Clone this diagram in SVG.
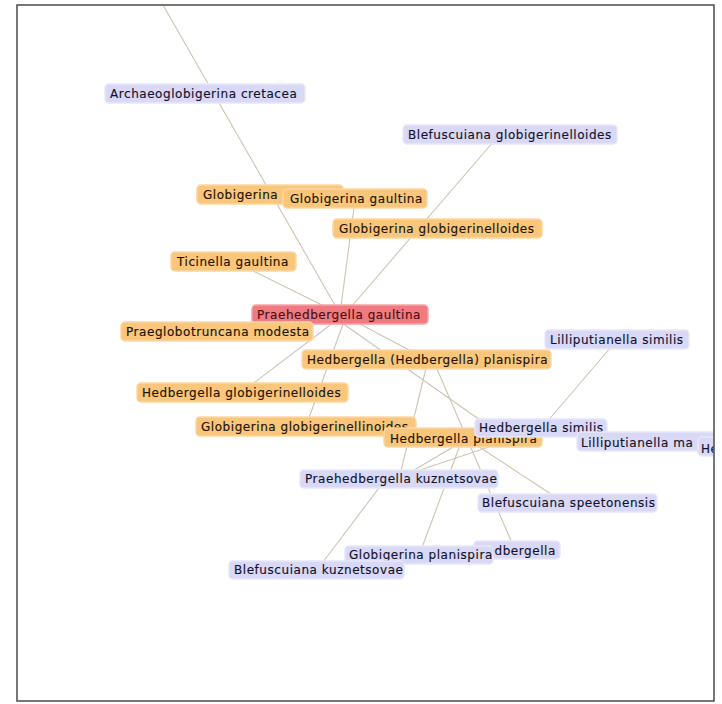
<svg xmlns="http://www.w3.org/2000/svg" width="722" height="704" viewBox="0 0 722 704">
<style>
.edge{stroke:#cfc4b2;stroke-width:1.1;fill:none}
.n rect{rx:4;ry:4}
.lav rect{fill:#d9d9f7;stroke:#e6e6fa;stroke-width:1.5}
.org rect{fill:#f9c67c;stroke:#fbd8a4;stroke-width:1.5}
.red rect{fill:#ef7b80;stroke:#f5a5a8;stroke-width:1.5}
.n text{font-family:"DejaVu Sans",Verdana,sans-serif;font-size:12px;letter-spacing:0.55px;fill:#12122a;stroke:#12122a;stroke-width:0.15}
.org text{fill:#221400;stroke:#221400}
.red text{fill:#4e0c12;stroke:#4e0c12}
</style>
<defs>
<clipPath id="frame"><rect x="18" y="6" width="696" height="694"/></clipPath>
</defs>
<rect x="0" y="0" width="722" height="704" fill="#ffffff"/>
<g clip-path="url(#frame)">
<g id="connectors">
<line class="edge" x1="163" y1="5" x2="340" y2="314"/>
<line class="edge" x1="355" y1="200" x2="340" y2="314"/>
<line class="edge" x1="500" y1="134" x2="345" y2="314"/>
<line class="edge" x1="233" y1="261" x2="340" y2="314"/>
<line class="edge" x1="217" y1="331" x2="340" y2="314"/>
<line class="edge" x1="242" y1="392" x2="342" y2="316"/>
<line class="edge" x1="306" y1="426" x2="346" y2="316"/>
<line class="edge" x1="426" y1="359" x2="345" y2="316"/>
<line class="edge" x1="335" y1="318" x2="480" y2="420"/>
<line class="edge" x1="617" y1="340" x2="540" y2="430"/>
<line class="edge" x1="428" y1="360" x2="399" y2="479"/>
<line class="edge" x1="434" y1="362" x2="515" y2="550"/>
<line class="edge" x1="540" y1="430" x2="399" y2="477"/>
<line class="edge" x1="470" y1="437" x2="399" y2="479"/>
<line class="edge" x1="463" y1="437" x2="420" y2="553"/>
<line class="edge" x1="464" y1="437" x2="560" y2="500"/>
<line class="edge" x1="388" y1="476" x2="320" y2="566"/>
</g>
<g id="n1" class="n lav"><rect x="105" y="84" width="200" height="19"/><text x="110" y="98">Archaeoglobigerina cretacea</text></g>
<g id="n2" class="n lav"><rect x="403" y="125" width="214" height="19"/><text x="408" y="139">Blefuscuiana globigerinelloides</text></g>
<g id="n3" class="n org"><rect x="197" y="185" width="146" height="19"/><text x="203" y="199">Globigerina</text></g>
<g id="n4" class="n org"><rect x="283" y="189" width="144" height="19"/><text x="290" y="203">Globigerina gaultina</text></g>
<g id="n5" class="n org"><rect x="333" y="219" width="209" height="19"/><text x="339" y="233">Globigerina globigerinelloides</text></g>
<g id="n6" class="n org"><rect x="171" y="252" width="125" height="19"/><text x="177" y="266">Ticinella gaultina</text></g>
<g id="n7" class="n red"><rect x="252" y="305" width="176" height="19"/><text x="257" y="319">Praehedbergella gaultina</text></g>
<g id="n8" class="n org"><rect x="121" y="322" width="192" height="19"/><text x="126" y="336">Praeglobotruncana modesta</text></g>
<g id="n9" class="n lav"><rect x="545" y="330" width="144" height="19"/><text x="550" y="344">Lilliputianella similis</text></g>
<g id="n10" class="n org"><rect x="302" y="350" width="249" height="19"/><text x="307" y="364">Hedbergella (Hedbergella) planispira</text></g>
<g id="n11" class="n org"><rect x="137" y="383" width="211" height="19"/><text x="142" y="397">Hedbergella globigerinelloides</text></g>
<g id="n12" class="n org"><rect x="196" y="417" width="220" height="19"/><text x="201" y="431">Globigerina globigerinellinoides</text></g>
<g id="n13" class="n org"><rect x="384" y="428" width="158" height="19"/><text x="390" y="443">Hedbergella planispira</text></g>
<g id="n14" class="n lav"><rect x="475" y="419" width="132" height="18"/><text x="479" y="432">Hedbergella similis</text></g>
<g id="n15" class="n lav"><rect x="577" y="432" width="140" height="19"/><text x="581" y="447">Lilliputianella ma</text></g>
<g id="n16" class="n lav"><rect x="698" y="437" width="100" height="19"/><text x="701" y="453">He</text></g>
<g id="n17" class="n lav"><rect x="300" y="470" width="198" height="18"/><text x="305" y="483">Praehedbergella kuznetsovae</text></g>
<g id="n18" class="n lav"><rect x="478" y="494" width="179" height="18"/><text x="482" y="507">Blefuscuiana speetonensis</text></g>
<g id="n19" class="n lav"><rect x="474" y="541" width="86" height="18"/><text x="477" y="555">Hedbergella</text></g>
<g id="n20" class="n lav"><rect x="345" y="546" width="148" height="18"/><text x="349" y="559">Globigerina planispira</text></g>
<g id="n21" class="n lav"><rect x="229" y="561" width="175" height="18"/><text x="234" y="574">Blefuscuiana kuznetsovae</text></g>
</g>
<rect x="17" y="5" width="697" height="696" fill="none" stroke="#555555" stroke-width="1.6"/>
</svg>
